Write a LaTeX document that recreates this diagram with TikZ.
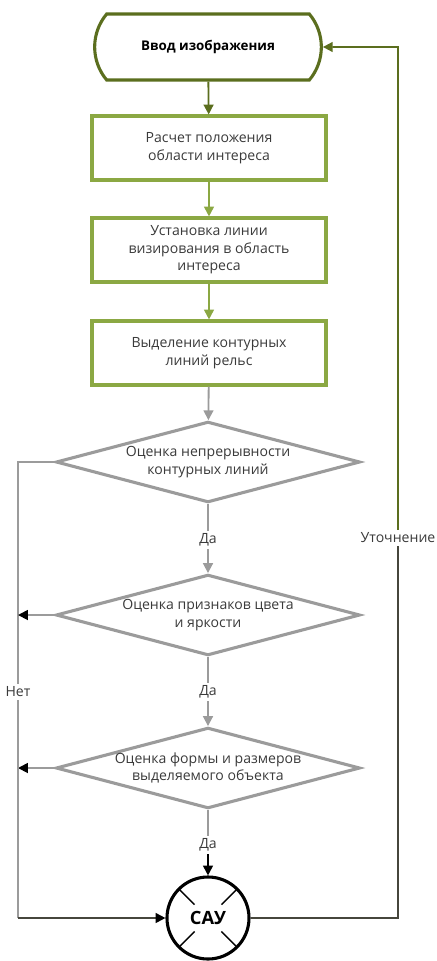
\documentclass[tikz,border=0pt]{standalone}
\usepackage{fontspec}
\setmainfont{Open Sans}
\usepackage{tikz}
\usetikzlibrary{calc,arrows.meta,shapes.geometric,shapes.misc}
\definecolor{termcol}{RGB}{91,110,30}
\definecolor{boxcol}{RGB}{139,168,67}
\definecolor{greycol}{RGB}{155,155,155}
\definecolor{textcol}{RGB}{58,58,58}
\definecolor{backcol}{RGB}{70,70,60}
\tikzset{>={Triangle[length=7pt,width=7pt]}}
\tikzset{
  term/.style={draw=termcol,line width=2.2pt,rounded rectangle,rounded rectangle arc length=80,
    minimum width=5.9cm,minimum height=1.65cm,font=\fontsize{9.5}{11}\selectfont\bfseries,text=black},
  procbox/.style={draw=boxcol,line width=2.2pt,rectangle,minimum width=5.85cm,minimum height=1.6cm,
    align=center,font=\fontsize{10}{12.5}\selectfont,text=textcol},
  check/.style={draw=greycol,line width=2.2pt,diamond,aspect=3.75,inner sep=0pt,
    minimum width=7.6cm,minimum height=2.02cm,align=center,font=\fontsize{10}{12.5}\selectfont,text=textcol},
  lbl/.style={font=\fontsize{10}{12}\selectfont,text=textcol,inner sep=2pt},
  greenarr/.style={boxcol,line width=1.3pt,->},
  greyline/.style={greycol,line width=1.3pt}
}

\begin{document}
\begin{tikzpicture}[x=0.025cm,y=-0.025cm]
    \useasboundingbox (0,0) rectangle (436,961);

    \node[term] at (208,47) (input) {Ввод изображения};
    \node[procbox] at (209,148) (roi) {Расчет положения\\области интереса};
    \node[procbox] at (209,250) (sight) {Установка линии\\визирования в область\\интереса};
    \node[procbox] at (209,353) (edges) {Выделение контурных\\линий рельс};
    \draw[greenarr,termcol] (input) -- (roi);
    \draw[greenarr] (roi) -- (sight);
    \draw[greenarr] (sight) -- (edges);

    \node[check] at (208,462) (cont) {Оценка непрерывности\\контурных линий};
    \node[check] at (208,615) (color) {Оценка признаков цвета\\и яркости};
    \node[check] at (208,768) (shape) {Оценка формы и размеров\\выделяемого объекта};
    \draw[greyline,->] (edges) -- (cont);

    \node[lbl] at (208,540) (yes1) {Да};
    \node[lbl] at (208,692) (yes2) {Да};
    \node[lbl] at (208,845) (yes3) {Да};
    \draw[greyline] (cont) -- (yes1);
    \draw[greyline,->] (yes1) -- (color);
    \draw[greyline] (color) -- (yes2);
    \draw[greyline,->] (yes2) -- (shape);
    \draw[greyline] (shape) -- (yes3);

    \node[circle,draw=black,line width=2.2pt,minimum size=2.05cm,inner sep=0pt,
      font=\fontsize{13}{15}\selectfont\bfseries] at (208,918) (sau) {САУ};
    \foreach \a in {45,135,225,315}
        \draw[line width=1pt] ($(sau.center)+(\a:19)$) -- ($(sau.center)+(\a:40)$);
    \draw[line width=1.3pt,->] (yes3) -- (sau);

    % ветка "Нет"
    \node[lbl] at (18,692) (no) {Нет};
    \coordinate (nobot) at (18,918);
    \draw[greyline] (cont.west) -- (18,462) -- (no);
    \draw[greyline,-{Triangle[length=7pt,width=7pt,black]}] (color.west) -- (18,615);
    \draw[greyline,-{Triangle[length=7pt,width=7pt,black]}] (shape.west) -- (18,768);
    \draw[greyline] (no) -- (nobot);
    \draw[line width=1.3pt,backcol,->,>={Triangle[length=7pt,width=7pt,black]}] (nobot) -- (sau);

    % обратная связь
    \node[lbl] at (398,538) (refine) {Уточнение};
    \draw[line width=1.3pt,backcol] (sau) -- (398,918) -- (refine);
    \draw[line width=1.3pt,termcol,->] (refine) -- (398,47) -- (input);
\end{tikzpicture}
\end{document}
